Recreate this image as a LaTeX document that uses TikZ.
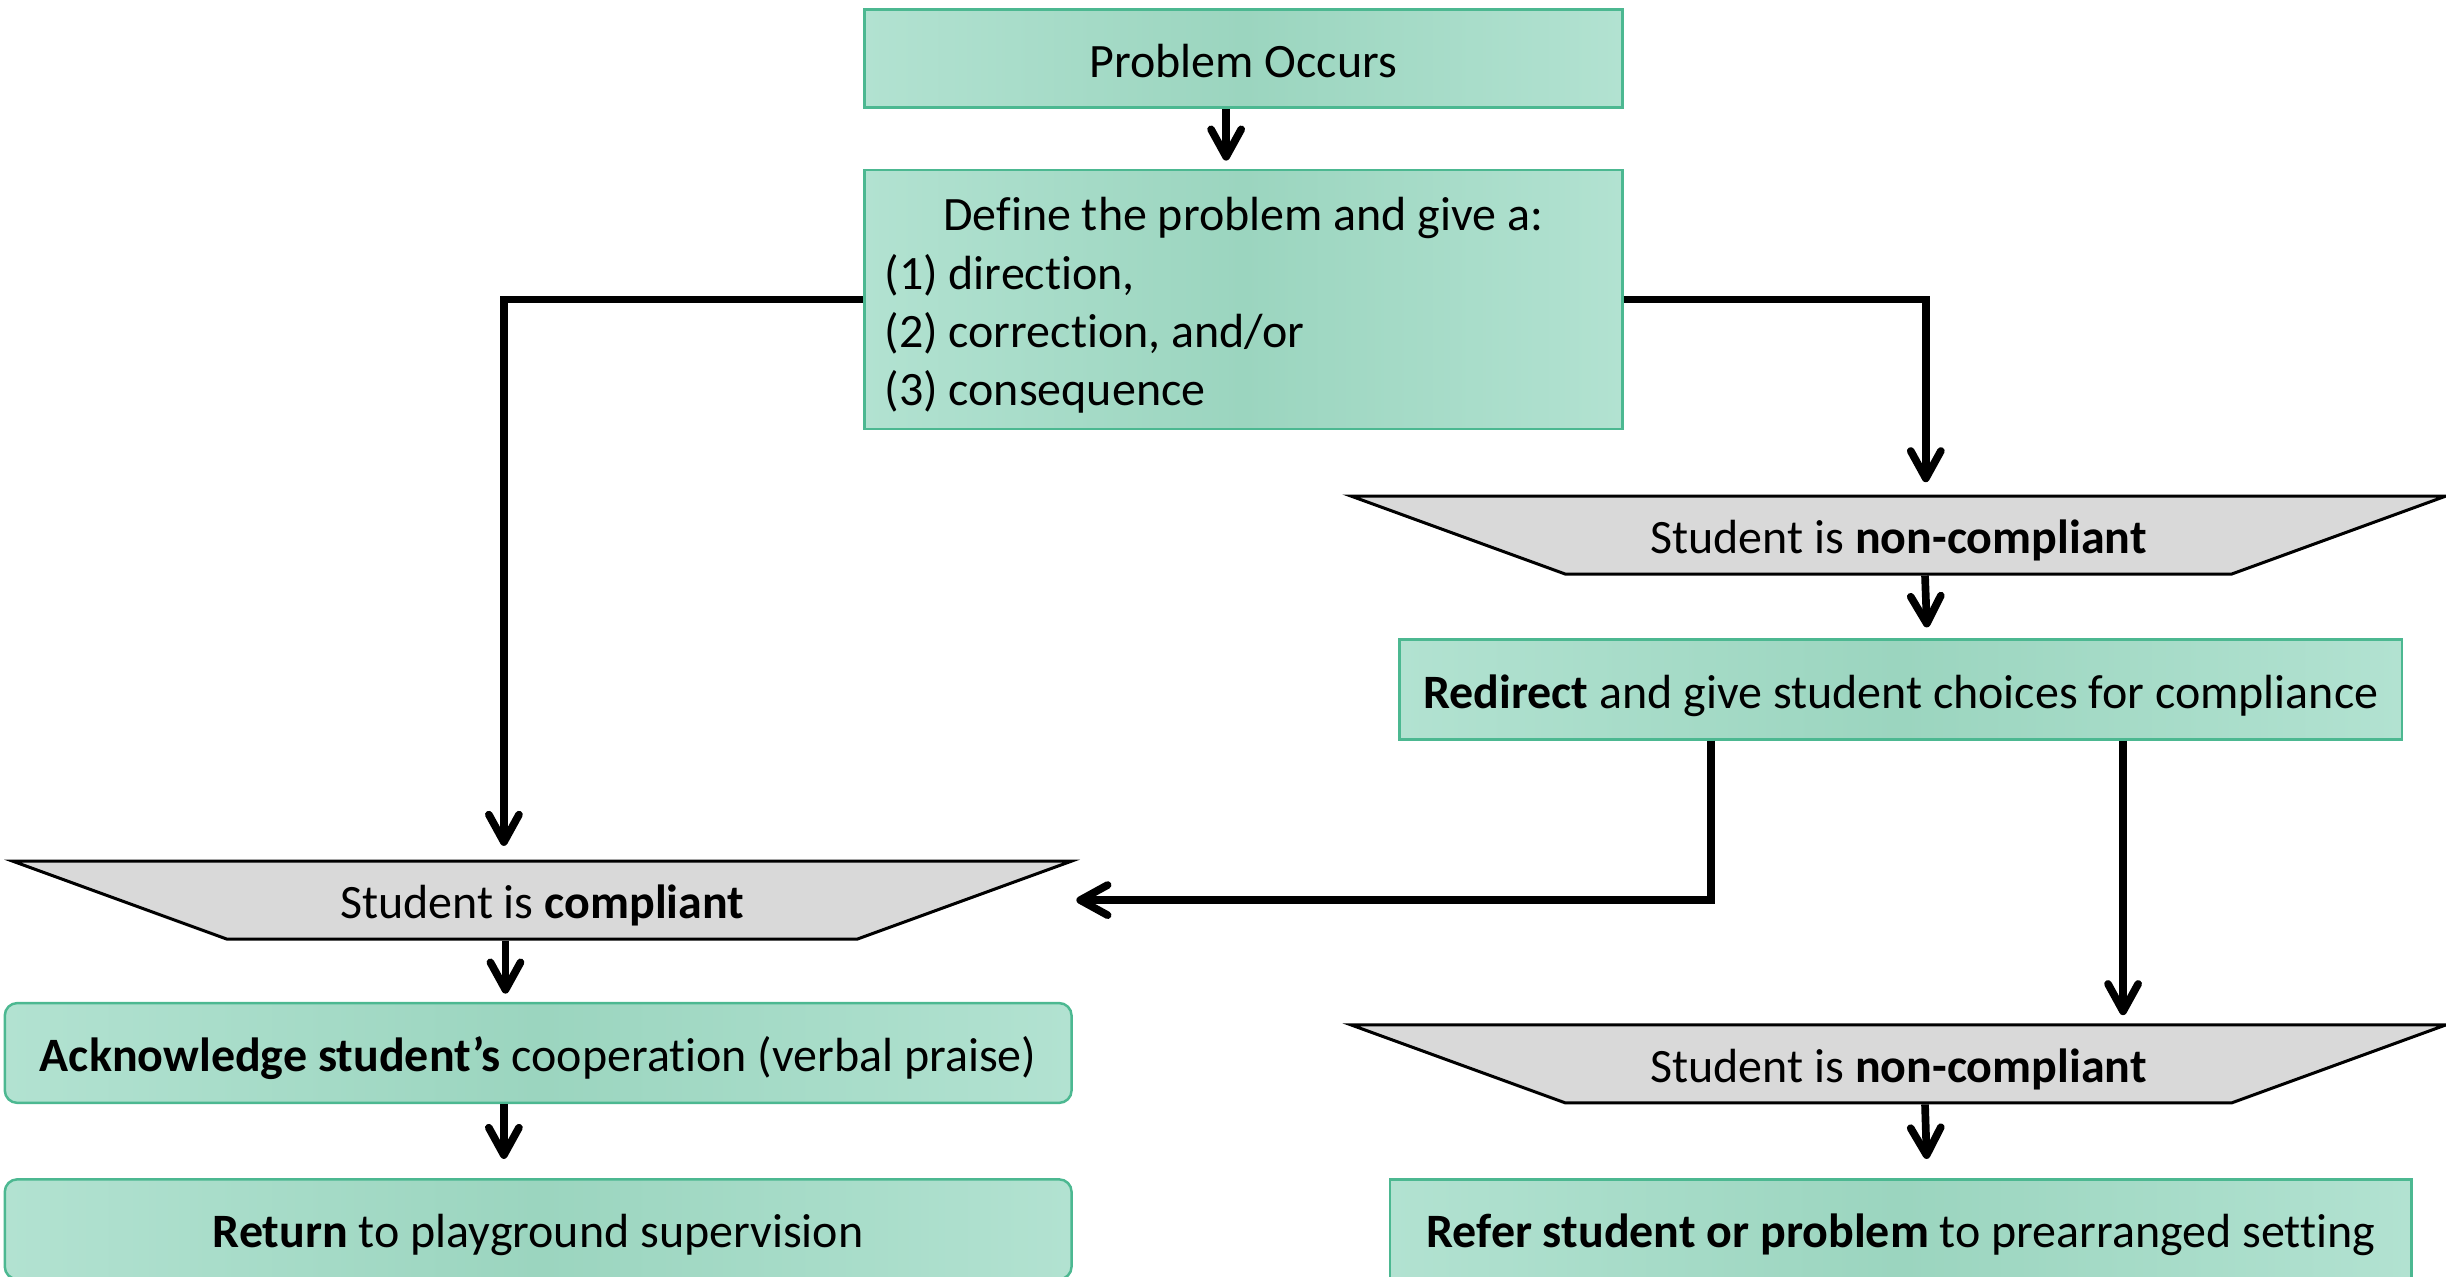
\documentclass[tikz,border=0pt]{standalone}
\usepackage{fontspec}
\setmainfont{Carlito}[Ligatures={TeX,NoCommon}]
\usetikzlibrary{shapes.geometric,arrows.meta}

\definecolor{boxedge}{RGB}{178,226,209}
\definecolor{boxmid}{RGB}{155,213,191}
\definecolor{boxline}{RGB}{76,184,145}
\definecolor{trapgray}{RGB}{217,217,217}

\tikzset{
  boxlook/.style={rectangle, draw=boxline, line width=0.9pt,
    left color=boxedge, right color=boxedge, middle color=boxmid,
    inner sep=0pt, font=\fontsize{17.5}{21.3}\selectfont},
  greenbox/.style={boxlook, minimum height=1.28cm, text height=0.74cm, text depth=0.26cm},
  roundbox/.style={greenbox, rounded corners=0.16cm},
  trapbox/.style={trapezium, trapezium stretches body, shape border rotate=180,
    trapezium left angle=20, trapezium right angle=20,
    draw=black, line width=1.1pt, fill=trapgray,
    inner sep=0pt, text height=0.74cm, text depth=0.26cm,
    font=\fontsize{17.5}{21.3}\selectfont},
  flow/.style={line width=2.8pt, -{Straight Barb[length=10pt,width=11pt,round]}, shorten >=3pt}
}

\begin{document}
\begin{tikzpicture}[x=0.02cm, y=-0.02cm]
\useasboundingbox (0,0) rectangle (1568,818);

% boxes
\node[greenbox, minimum width=9.72cm, minimum height=1.26cm] (prob) at (797,37.5) {Problem Occurs};
\node[boxlook, minimum width=9.72cm, minimum height=3.32cm, text width=9.2cm, align=flush left] (define) at (797,192)
  {\makebox[9.2cm]{\rule{0pt}{0.58cm}Define the problem and give a:}\\(1) direction,\\(2) correction, and/or\\(3) consequence};

\node[trapbox, minimum width=14.04cm] (noncompA) at (1217,343) {Student is \textbf{non-compliant}};
\node[greenbox, minimum width=12.86cm] (redirect) at (1218.5,442) {\textbf{Redirect} and give student choices for compliance};
\node[trapbox, minimum width=14.04cm] (noncompB) at (1217,682) {Student is \textbf{non-compliant}};
\node[greenbox, minimum width=13.1cm] (refer) at (1218.5,788) {\textbf{Refer student or problem} to prearranged setting};

\node[trapbox, minimum width=13.58cm] (comp) at (347.5,577) {Student is \textbf{compliant}};
\node[roundbox, minimum width=13.68cm] (ack) at (345,675) {\textbf{Acknowledge student’s} cooperation (verbal praise)};
\node[roundbox, minimum width=13.68cm] (ret) at (345,788) {\textbf{Return} to playground supervision};

\coordinate (compin) at (690,577);

% arrows
\draw[flow] ([xshift=-0.22cm]prob.south) -- ([xshift=-0.22cm]define.north);
\draw[flow, shorten >=5pt] (define.west) -| ([xshift=-0.49cm]comp.north);
\draw[flow, shorten >=4.5pt] (define.east) -| ([xshift=0.35cm]noncompA.north);
\draw[flow, shorten >=4pt] ([xshift=0.34cm]noncompA.south) -- ([xshift=0.34cm]redirect.north);
\draw[flow, shorten >=0pt] ([xshift=-2.43cm]redirect.south) |- (compin);
\draw[flow] ([xshift=2.85cm]redirect.south) -- ([xshift=2.85cm]redirect.south |- noncompB.north);
\draw[flow, shorten >=7pt] ([xshift=0.34cm]noncompB.south) -- ([xshift=0.34cm]refer.north);
\draw[flow] ([xshift=-0.47cm]comp.south) -- ([xshift=-0.47cm]comp.south |- ack.north);
\draw[flow, shorten >=7pt] ([xshift=-0.44cm]ack.south) -- ([xshift=-0.44cm]ret.north);
\end{tikzpicture}
\end{document}
